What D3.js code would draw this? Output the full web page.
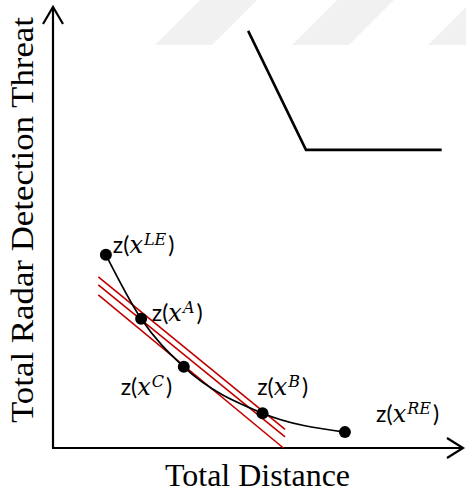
<!DOCTYPE html>
<html>
<head>
<meta charset="utf-8">
<script src="https://cdn.jsdelivr.net/npm/d3@7"></script>
<style>
  html, body { margin: 0; padding: 0; background: #fff; }
  svg { display: block; }
</style>
</head>
<body>
<div id="chart"></div>
<script>
// ---- data (abstract units, 0..100 on both axes) ----
const pointNames = ["LE", "A", "C", "B", "RE"];
const pointX = [12.9, 21.5, 31.9, 51.1, 71.2];
const pointY = [43.8, 29.3, 18.4, 7.9, 3.6];

// label anchors (data units)
const labelX = [14.6, 24.1, 16.5, 49.8, 78.8];
const labelY = [44.3, 28.8, 12.1, 12.0, 6.0];

// parallel red (supporting) lines: start / end
const redX0 = [11.05, 11.05, 11.05];
const redY0 = [38.8, 37.0, 34.7];
const redX1 = [56.6, 56.6, 56.2];
const redY1 = [4.2, 2.5, 0.0];

// top-right inset polyline
const insetX = [47.6, 61.7, 94.8];
const insetY = [94.6, 67.6, 67.6];

const xTitle = "Total Distance";
const yTitle = "Total Radar Detection Threat";

// ---- layout ----
const W = 466, H = 497;
const svg = d3.select("#chart").append("svg").attr("width", W).attr("height", H);

const x = d3.scaleLinear().domain([0, 100]).range([53, 463]);
const y = d3.scaleLinear().domain([0, 100]).range([448, 7]);

// faint watermark stripes in the background
const wm = svg.append("g").attr("fill", "#f1f1f1");
[155, 292, 428].forEach(bx => {
  wm.append("path").attr("d", `M${bx},45 L${bx + 57},45 L${bx + 102},0 L${bx + 45},0 Z`);
});

// axes with arrow heads
const ax = svg.append("g").attr("stroke", "#000").attr("stroke-width", 2.2).attr("fill", "none")
  .attr("stroke-linecap", "butt");
ax.append("path").attr("d", `M${x(0)},${y(0)} L${x(0)},${y(100)}`);
ax.append("path").attr("d", `M${x(0) - 10},${y(100) + 17} L${x(0)},${y(100)} L${x(0) + 10},${y(100) + 17}`)
  .attr("stroke-linejoin", "miter");
ax.append("path").attr("d", `M${x(0) - 1},${y(0)} L${x(100)},${y(0)}`);
ax.append("path").attr("d", `M${x(100) - 16},${y(0) - 10} L${x(100)},${y(0)} L${x(100) - 16},${y(0) + 10}`)
  .attr("stroke-linejoin", "miter");

// axis titles
svg.append("text")
  .attr("x", (x(0) + x(100)) / 2 - 0.5).attr("y", 486)
  .attr("text-anchor", "middle")
  .attr("font-family", "'Liberation Serif', 'Times New Roman', serif")
  .attr("font-size", 31)
  .attr("textLength", 185).attr("lengthAdjust", "spacingAndGlyphs")
  .text(xTitle);

svg.append("text")
  .attr("transform", `translate(33,220) rotate(-90)`)
  .attr("text-anchor", "middle")
  .attr("font-family", "'Liberation Serif', 'Times New Roman', serif")
  .attr("font-size", 31)
  .attr("textLength", 406).attr("lengthAdjust", "spacingAndGlyphs")
  .text(yTitle);

// inset polyline
svg.append("path")
  .datum(insetX.map((v, i) => [v, insetY[i]]))
  .attr("fill", "none").attr("stroke", "#000").attr("stroke-width", 2.6)
  .attr("stroke-linejoin", "miter")
  .attr("d", d3.line().x(d => x(d[0])).y(d => y(d[1])));

// red parallel lines
svg.append("g").selectAll("line")
  .data(redX0.map((v, i) => ({ x0: v, y0: redY0[i], x1: redX1[i], y1: redY1[i] })))
  .join("line")
  .attr("x1", d => x(d.x0)).attr("y1", d => y(d.y0))
  .attr("x2", d => x(d.x1)).attr("y2", d => y(d.y1))
  .attr("stroke", "#c00000").attr("stroke-width", 1.6);

// black frontier curve
const pts = pointX.map((v, i) => ({ name: pointNames[i], x: v, y: pointY[i] }));
svg.append("path")
  .datum(pts)
  .attr("fill", "none").attr("stroke", "#000").attr("stroke-width", 1.7)
  .attr("d", d3.line().x(d => x(d.x)).y(d => y(d.y)).curve(d3.curveMonotoneX));

// points
svg.append("g").selectAll("circle")
  .data(pts).join("circle")
  .attr("cx", d => x(d.x)).attr("cy", d => y(d.y)).attr("r", 6)
  .attr("fill", "#000");

// labels z(x^k)
const lab = svg.append("g").attr("font-size", 23).attr("fill", "#000");
pts.forEach((d, i) => {
  const t = lab.append("text")
    .attr("x", x(labelX[i])).attr("y", y(labelY[i]));
  t.append("tspan").attr("font-family", "Lato, 'Open Sans', sans-serif").text("z(");
  t.append("tspan").attr("font-family", "'DejaVu Serif', 'Liberation Serif', serif")
    .attr("font-style", "italic").attr("font-size", 24).text("x");
  t.append("tspan").attr("font-family", "'DejaVu Serif', 'Liberation Serif', serif")
    .attr("font-style", "italic").attr("font-size", 16).attr("dy", -8).attr("dx", 1).text(d.name);
  t.append("tspan").attr("font-family", "Lato, 'Open Sans', sans-serif").attr("dx", 2).attr("dy", 8).text(")");
});
</script>
</body>
</html>
